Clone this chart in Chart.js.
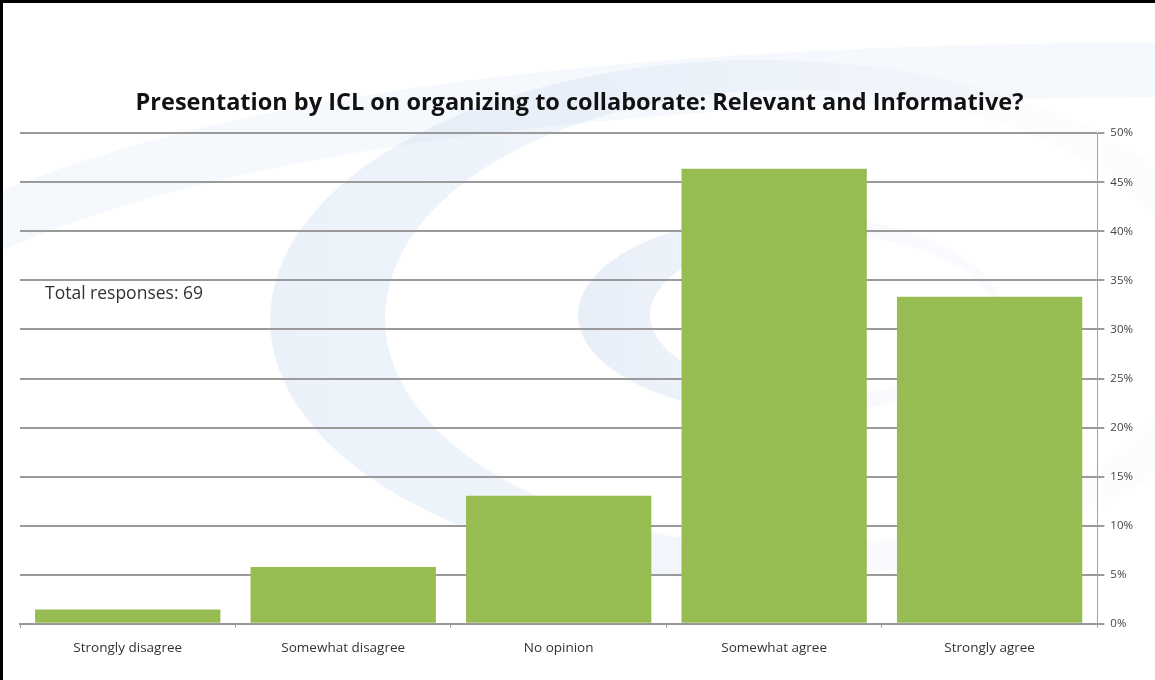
<!DOCTYPE html>
<html>
<head>
<meta charset="utf-8">
<script src="https://cdn.jsdelivr.net/npm/chart.js@4"></script>
<style>
  html, body { margin: 0; padding: 0; background: #ffffff; }
  #wrap { width: 1155px; height: 680px; position: relative; }
</style>
</head>
<body>
<div id="wrap"><canvas id="chart" width="1155" height="680"></canvas></div>
<script>
// Survey answers and share of respondents (%)
const categories = ['Strongly disagree', 'Somewhat disagree', 'No opinion', 'Somewhat agree', 'Strongly agree'];
const shares = [1.45, 5.80, 13.04, 46.38, 33.33];
const totalResponses = 69;
const chartTitle = 'Presentation by ICL on organizing to collaborate: Relevant and Informative?';
const axisMax = 50;
const axisStep = 5;

// Page frame plus the faint blue swirl behind the plot
const backdrop = {
  id: 'backdrop',
  beforeDraw(chart) {
    const ctx = chart.ctx;
    const W = chart.width, H = chart.height;
    ctx.save();
    ctx.fillStyle = '#ffffff';
    ctx.fillRect(0, 0, W, H);

    // wide sweeping band across the top
    ctx.lineCap = 'round';
    ctx.strokeStyle = 'rgba(205,220,240,0.20)';
    ctx.lineWidth = 55;
    ctx.beginPath();
    ctx.moveTo(-20, 230);
    ctx.quadraticCurveTo(330, 70, 1180, 70);
    ctx.stroke();

    // large crescent
    let g = ctx.createLinearGradient(260, 0, 1000, 0);
    g.addColorStop(0, 'rgba(190,212,238,0.32)');
    g.addColorStop(0.5, 'rgba(195,215,240,0.24)');
    g.addColorStop(1, 'rgba(205,220,240,0.06)');
    ctx.fillStyle = g;
    ctx.beginPath();
    ctx.ellipse(760, 320, 490, 260, 0, 0, Math.PI * 2);
    ctx.ellipse(790, 318, 405, 228, 0, 0, Math.PI * 2);
    ctx.fill('evenodd');

    // small inner crescent
    g = ctx.createLinearGradient(575, 0, 900, 0);
    g.addColorStop(0, 'rgba(185,205,235,0.34)');
    g.addColorStop(1, 'rgba(195,212,240,0.10)');
    ctx.fillStyle = g;
    ctx.beginPath();
    ctx.ellipse(790, 315, 212, 100, 0, 0, Math.PI * 2);
    ctx.ellipse(822, 315, 172, 80, 0, 0, Math.PI * 2);
    ctx.fill('evenodd');

    // frame edges
    ctx.fillStyle = '#000000';
    ctx.fillRect(0, 0, W, 3);
    ctx.fillRect(0, 0, 3, H);
    ctx.restore();
  },
  afterDraw(chart) {
    const ctx = chart.ctx;
    ctx.save();
    ctx.fillStyle = '#333333';
    ctx.font = '17.5px "Open Sans", sans-serif';
    ctx.textBaseline = 'middle';
    ctx.fillText('Total responses: ' + totalResponses, 45, 294);
    ctx.restore();
  }
};

new Chart(document.getElementById('chart'), {
  type: 'bar',
  data: {
    labels: categories,
    datasets: [{
      data: shares,
      backgroundColor: '#97BC52',
      borderWidth: 0,
      barPercentage: 0.86,
      categoryPercentage: 1.0
    }]
  },
  options: {
    responsive: false,
    animation: false,
    layout: { padding: { left: 20, right: 16, top: 89, bottom: 12 } },
    plugins: {
      legend: { display: false },
      tooltip: { enabled: false },
      title: {
        display: true,
        text: chartTitle,
        color: '#111111',
        font: { family: '"Open Sans", sans-serif', size: 23.5, weight: 'bold', lineHeight: 1.2 },
        padding: { top: 0, bottom: 16 }
      }
    },
    scales: {
      x: {
        grid: {
          display: true,
          offset: true,
          drawOnChartArea: false,
          drawTicks: true,
          tickLength: 4,
          color: '#a0a0a0'
        },
        border: { display: true, color: '#999999', width: 2 },
        ticks: {
          color: '#333333',
          font: { family: '"Open Sans", sans-serif', size: 13.5 },
          padding: 12,
          maxRotation: 0
        }
      },
      y: {
        position: 'right',
        min: 0,
        max: axisMax,
        grid: {
          color: '#9a9a9a',
          lineWidth: 2,
          tickLength: 7
        },
        border: { display: true, color: '#a0a0a0', width: 1 },
        ticks: {
          stepSize: axisStep,
          color: '#444444',
          font: { family: '"Open Sans", sans-serif', size: 11.5 },
          padding: 6,
          callback: v => v + '%'
        }
      }
    }
  },
  plugins: [backdrop]
});
</script>
</body>
</html>
